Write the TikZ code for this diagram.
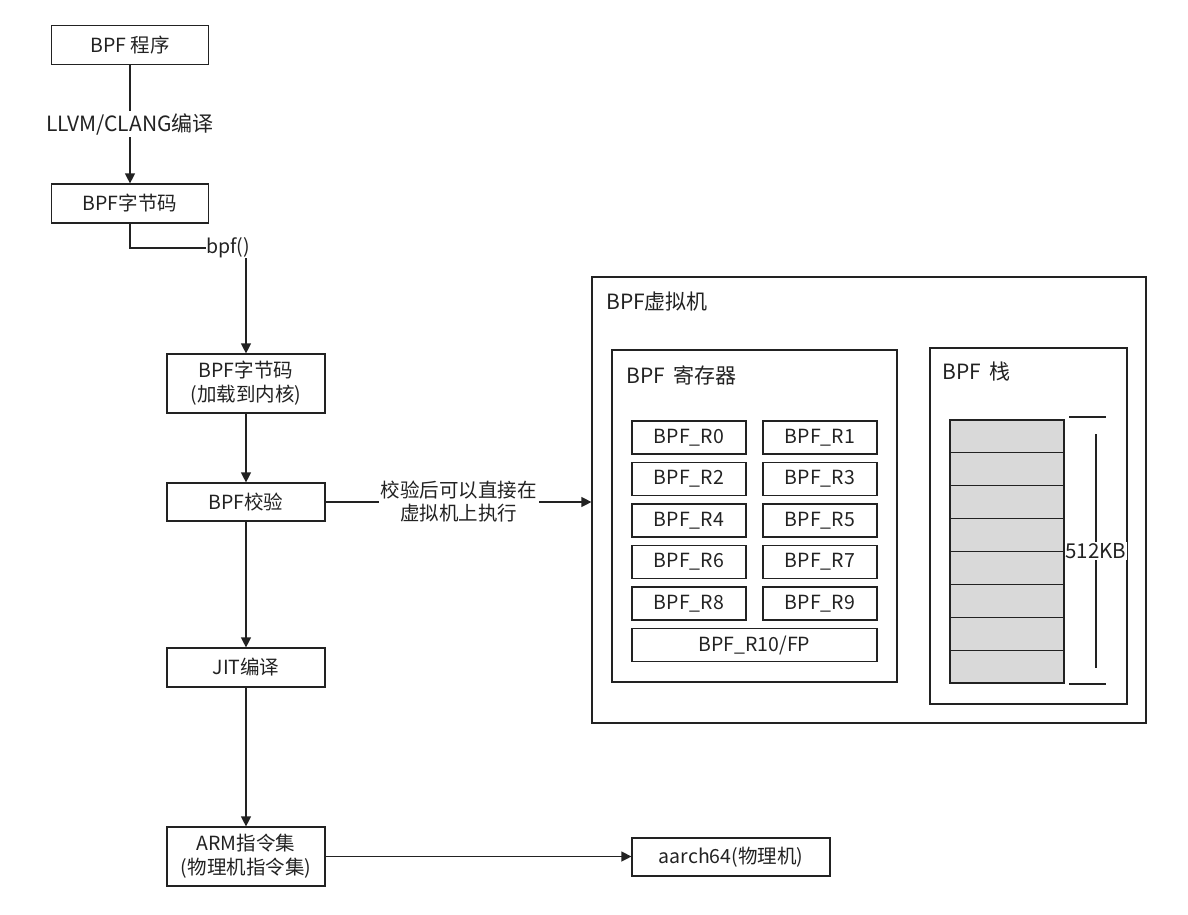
\documentclass[tikz,border=0pt]{standalone}
\usepackage{fontspec}
\setmainfont{Noto Sans CJK SC}
\usetikzlibrary{arrows.meta}

\definecolor{inkgray}{HTML}{222222}
\definecolor{cellgray}{HTML}{D9D9D9}

\tikzset{
  box/.style={draw=inkgray, line width=1.2pt, rectangle, align=center, text=inkgray,
    font=\fontsize{19.5}{24}\selectfont, inner sep=0pt},
  regbox/.style={box, minimum width=114pt, minimum height=33pt, font=\fontsize{19.5}{23}\selectfont},
  cellbox/.style={box, fill=cellgray, minimum width=114pt, minimum height=32.875pt},
  frame/.style={draw=inkgray, line width=1.2pt, rectangle, inner sep=0pt},
  title/.style={anchor=west, text=inkgray, font=\fontsize{21}{24}\selectfont, inner sep=0pt},
  arr/.style={draw=inkgray, line width=1.2pt, -{Triangle[length=10pt,width=10pt]}},
  ln/.style={draw=inkgray, line width=1.2pt},
  lbl/.style={fill=white, text=inkgray, align=center, font=\fontsize{19.5}{23}\selectfont, inner sep=2pt}
}

\begin{document}
\begin{tikzpicture}[x=1pt, y=-1pt]
\useasboundingbox (0,0) rectangle (1188,914);

% left column
\node[box, minimum width=157pt, minimum height=39pt] (prog) at (130,45) {BPF 程序};
\node[box, minimum width=157pt, minimum height=39pt] (bc) at (130,203.5) {BPF字节码};
\node[lbl, inner sep=0pt] (bpf) at (228,248) {bpf()};
\node[box, minimum width=158pt, minimum height=59pt] (ld) at (246,383.5) {BPF字节码\\(加载到内核)};
\node[box, minimum width=158pt, minimum height=38pt] (verify) at (246,502) {BPF校验};
\node[box, minimum width=158pt, minimum height=39pt] (jit) at (246,667.5) {JIT编译};
\node[box, minimum width=158pt, minimum height=59pt] (arm) at (246,856.5) {ARM指令集\\(物理机指令集)};
\node[box, minimum width=198pt, minimum height=38pt] (aarch) at (731,857) {aarch64(物理机)};

% virtual machine
\node[frame, minimum width=554pt, minimum height=446pt] (vm) at (869,500) {};
\node[title] (vmtitle) at (606,302) {BPF虚拟机};
\node[frame, minimum width=285pt, minimum height=332pt] (regs) at (754.5,516) {};
\node[title] (regtitle) at (626,375) {BPF\hspace{4pt} 寄存器};
\node[frame, minimum width=197pt, minimum height=356pt] (stack) at (1028.5,526) {};
\node[title] (stacktitle) at (942,372) {BPF\hspace{4pt} 栈};

% registers
\node[regbox] (r0) at (689,437.5) {BPF\_R0};
\node[regbox] (r1) at (820,437.5) {BPF\_R1};
\node[regbox] (r2) at (689,479) {BPF\_R2};
\node[regbox] (r3) at (820,479) {BPF\_R3};
\node[regbox] (r4) at (689,520.5) {BPF\_R4};
\node[regbox] (r5) at (820,520.5) {BPF\_R5};
\node[regbox] (r6) at (689,562) {BPF\_R6};
\node[regbox] (r7) at (820,562) {BPF\_R7};
\node[regbox] (r8) at (689,603.5) {BPF\_R8};
\node[regbox] (r9) at (820,603.5) {BPF\_R9};
\node[regbox, minimum width=245pt] (r10) at (754.5,645) {BPF\_R10/FP};

% stack cells
\node[cellbox] (c1) at (1007,436.4) {};
\node[cellbox] (c2) at (1007,469.3) {};
\node[cellbox] (c3) at (1007,502.2) {};
\node[cellbox] (c4) at (1007,535.1) {};
\node[cellbox] (c5) at (1007,567.9) {};
\node[cellbox] (c6) at (1007,600.8) {};
\node[cellbox] (c7) at (1007,633.7) {};
\node[cellbox] (c8) at (1007,666.6) {};

% stack size mark
\coordinate (topl) at (1069,417);
\coordinate (topr) at (1106,417);
\coordinate (botl) at (1069,684);
\coordinate (botr) at (1106,684);
\coordinate (vtop) at (1096,434);
\coordinate (vbot) at (1096,668);
\draw[ln, line width=2.4pt] (topl) -- (topr);
\draw[ln, line width=2.4pt] (botl) -- (botr);
\draw[ln] (vtop) -- (vbot);
\node[lbl, inner sep=1pt, font=\fontsize{20.5}{23}\selectfont] (size) at (1096,551) {512KB};

% connectors
\draw[arr] (prog) -- node[lbl, font=\fontsize{21}{24}\selectfont] (llvm) {LLVM/CLANG编译} (bc);
\draw[ln] (bc.south) |- (bpf.west);
\draw[arr] (bpf.south -| ld.north) -- (ld.north);
\draw[arr] (ld) -- (verify);
\draw[arr] (verify.east) -- node[lbl] (run) {校验后可以直接在\\虚拟机上执行} (verify.east -| vm.west);
\draw[arr] (verify) -- (jit);
\draw[arr] (jit) -- (arm);
\draw[arr] (arm.east) -- (arm.east -| aarch.west);
\end{tikzpicture}
\end{document}
